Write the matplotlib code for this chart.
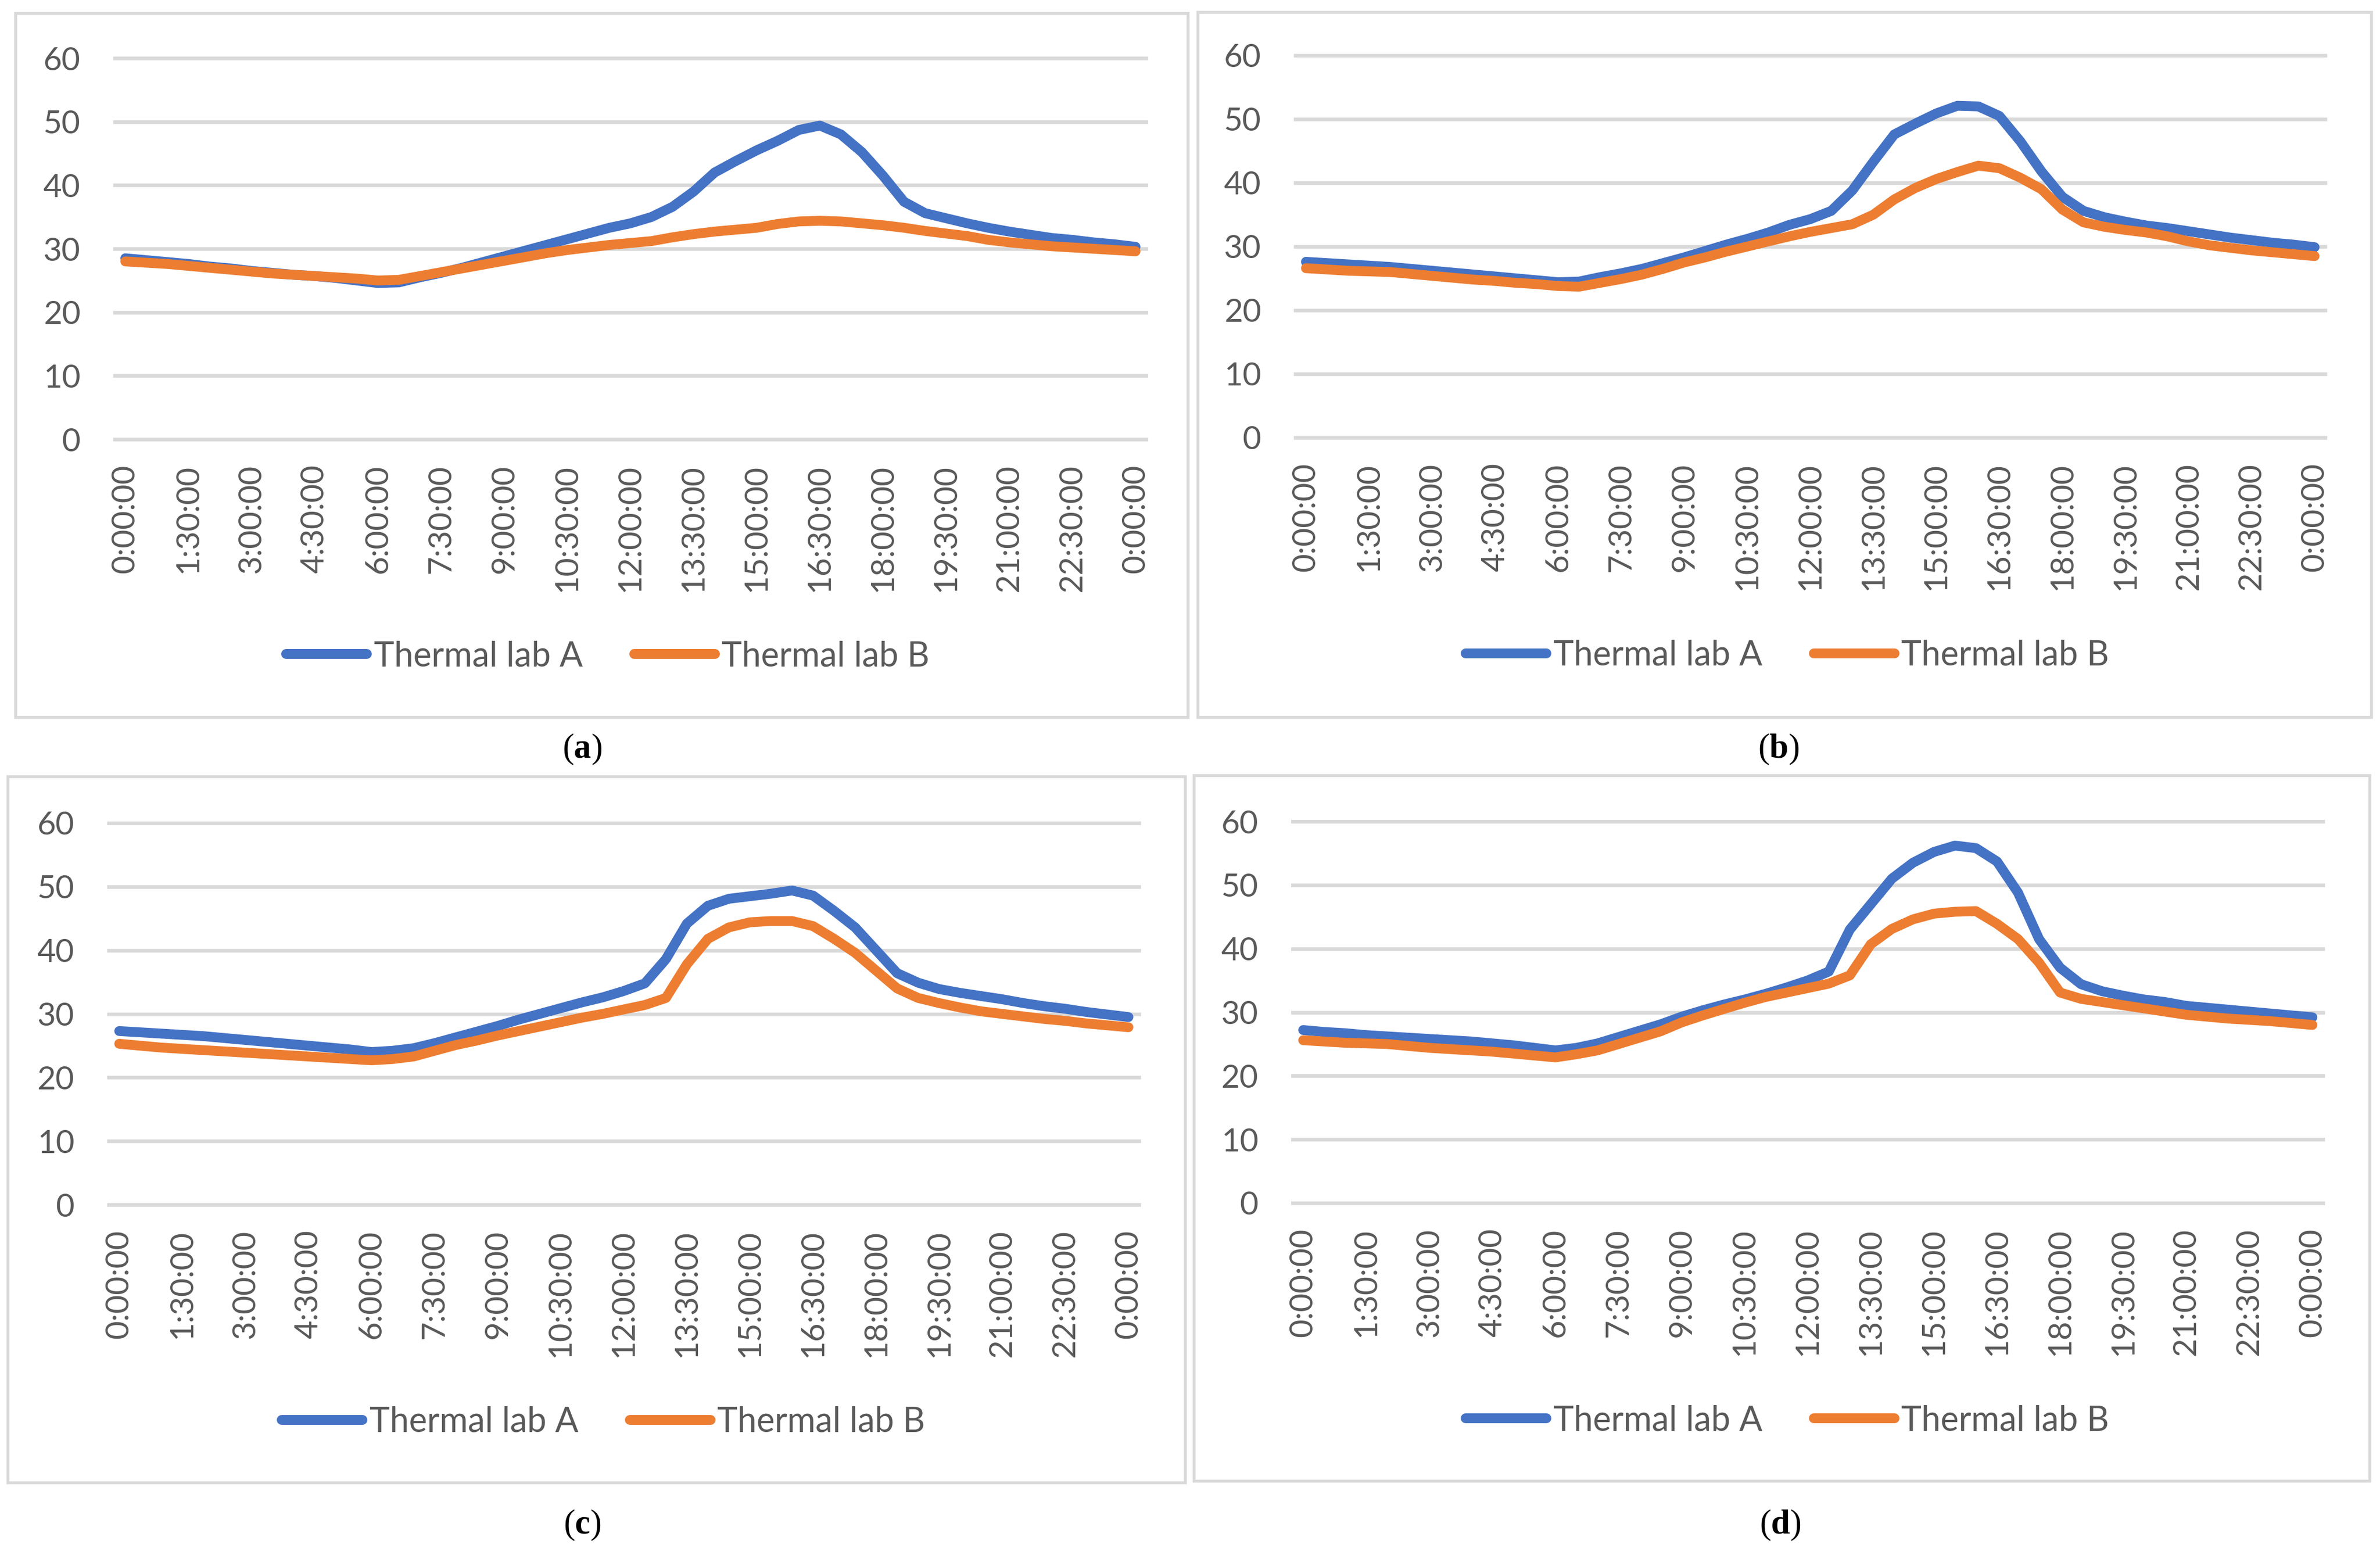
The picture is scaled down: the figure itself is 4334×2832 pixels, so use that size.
import matplotlib
matplotlib.use("Agg")
import matplotlib.pyplot as plt
from matplotlib.patches import Rectangle
import numpy as np

plt.rcParams['font.family'] = ['Lato', 'DejaVu Sans']
plt.rcParams['mathtext.fontset'] = 'custom'
plt.rcParams['mathtext.rm'] = 'Liberation Serif'
plt.rcParams['mathtext.bf'] = 'Liberation Serif:bold'

# half-hourly readings, 0:00 to 0:00 next day
times = ["%d:%02d:00" % ((i * 30 // 60) % 24, i * 30 % 60) for i in range(49)]
series_names = ["Thermal lab A", "Thermal lab B"]

# (a)
a_lab_a = [28.5, 28.2, 27.9, 27.6, 27.2, 26.9, 26.5, 26.2, 25.9, 25.7, 25.4, 25.0, 24.6,
           24.7, 25.5, 26.2, 27.0, 27.9, 28.8, 29.7, 30.6, 31.5, 32.4, 33.3, 34.0,
           35.0, 36.6, 39.0, 42.0, 43.8, 45.5, 47.0, 48.7, 49.4, 48.0, 45.2, 41.5,
           37.4, 35.6, 34.8, 34.0, 33.3, 32.7, 32.2, 31.7, 31.4, 31.0, 30.7, 30.3]
a_lab_b = [28.0, 27.8, 27.6, 27.3, 27.0, 26.7, 26.4, 26.1, 25.9, 25.7, 25.5, 25.3, 25.0,
           25.1, 25.7, 26.3, 26.9, 27.5, 28.1, 28.7, 29.3, 29.8, 30.2, 30.6, 30.9,
           31.2, 31.8, 32.3, 32.7, 33.0, 33.3, 33.9, 34.3, 34.4, 34.3, 34.0, 33.7,
           33.3, 32.8, 32.4, 32.0, 31.4, 31.0, 30.7, 30.4, 30.2, 30.0, 29.8, 29.6]

# (b)
b_lab_a = [27.6, 27.4, 27.2, 27.0, 26.8, 26.5, 26.2, 25.9, 25.6, 25.3, 25.0, 24.7, 24.4,
           24.5, 25.2, 25.8, 26.5, 27.4, 28.3, 29.3, 30.3, 31.2, 32.2, 33.4, 34.3,
           35.6, 38.8, 43.3, 47.6, 49.3, 50.9, 52.1, 52.0, 50.5, 46.5, 41.8, 37.8,
           35.6, 34.6, 33.9, 33.3, 32.9, 32.4, 31.9, 31.4, 31.0, 30.6, 30.3, 29.9]
b_lab_b = [26.6, 26.4, 26.2, 26.1, 26.0, 25.7, 25.4, 25.1, 24.8, 24.6, 24.3, 24.1, 23.8,
           23.7, 24.3, 24.9, 25.6, 26.5, 27.5, 28.3, 29.2, 30.0, 30.8, 31.6, 32.3,
           32.9, 33.5, 35.0, 37.4, 39.2, 40.6, 41.7, 42.7, 42.3, 40.8, 39.0, 35.8,
           33.8, 33.1, 32.6, 32.2, 31.6, 30.8, 30.2, 29.8, 29.4, 29.1, 28.8, 28.5]

# (c)
c_lab_a = [27.3, 27.1, 26.9, 26.7, 26.5, 26.2, 25.9, 25.6, 25.3, 25.0, 24.7, 24.4, 24.0,
           24.2, 24.6, 25.4, 26.3, 27.2, 28.1, 29.1, 30.0, 30.9, 31.8, 32.6, 33.6,
           34.8, 38.6, 44.2, 47.0, 48.1, 48.5, 48.9, 49.4, 48.6, 46.2, 43.6, 40.0,
           36.4, 34.9, 33.9, 33.3, 32.8, 32.3, 31.7, 31.2, 30.8, 30.3, 29.9, 29.5]
c_lab_b = [25.3, 25.0, 24.7, 24.5, 24.3, 24.1, 23.9, 23.7, 23.5, 23.3, 23.1, 22.9, 22.7,
           22.9, 23.3, 24.2, 25.1, 25.8, 26.6, 27.3, 28.0, 28.7, 29.4, 30.0, 30.7,
           31.4, 32.5, 37.8, 41.8, 43.6, 44.4, 44.6, 44.6, 43.8, 41.8, 39.6, 36.8,
           34.0, 32.5, 31.7, 31.0, 30.4, 30.0, 29.6, 29.2, 28.9, 28.5, 28.2, 27.9]

# (d)
d_lab_a = [27.2, 26.9, 26.7, 26.4, 26.2, 26.0, 25.8, 25.6, 25.4, 25.1, 24.8, 24.4, 24.0,
           24.4, 25.1, 26.1, 27.1, 28.1, 29.3, 30.3, 31.2, 32.0, 32.9, 33.9, 35.0,
           36.4, 43.0, 47.0, 51.0, 53.5, 55.2, 56.2, 55.8, 53.7, 48.8, 41.5, 37.0,
           34.4, 33.3, 32.6, 32.0, 31.6, 31.0, 30.7, 30.4, 30.1, 29.8, 29.5, 29.2]
d_lab_b = [25.6, 25.4, 25.2, 25.1, 25.0, 24.7, 24.4, 24.2, 24.0, 23.8, 23.5, 23.2, 22.9,
           23.4, 24.0, 25.0, 26.0, 27.0, 28.4, 29.5, 30.5, 31.5, 32.4, 33.1, 33.8,
           34.5, 35.8, 40.7, 43.1, 44.6, 45.5, 45.8, 45.9, 43.9, 41.5, 37.8, 33.1,
           32.1, 31.6, 31.1, 30.6, 30.1, 29.6, 29.3, 29.0, 28.8, 28.6, 28.3, 28.0]

captions = ["a", "b", "c", "d"]
panel_data = [(a_lab_a, a_lab_b), (b_lab_a, b_lab_b), (c_lab_a, c_lab_b), (d_lab_a, d_lab_b)]

W, H = 4334, 2832
BLUE = "#4472C4"
ORANGE = "#ED7D31"
GRID = "#D9D9D9"
TXT = "#595959"

# pixel layout: plot area (left, top, right, bottom), chart box, legend centre, caption centre
plot_px = [(209, 106, 2087, 800), (2359, 101, 4234, 797),
           (198, 1499, 2074, 2194), (2354, 1496, 4230, 2191)]
box_px = [(28, 24, 2163, 1306), (2181, 22, 4318, 1306),
          (14, 1414, 2158, 2700), (2174, 1412, 4315, 2697)]
legend_px = [(1107, 1195), (3255, 1194), (1099, 2590), (3255, 2587)]
caption_px = [(1060, 1365), (3239, 1365), (1060, 2778), (3242, 2778)]

fig = plt.figure(figsize=(W / 300, H / 300), dpi=300)
fig.patch.set_facecolor("white")

x = np.arange(len(times))

for i in range(4):
    l, t, r, b = plot_px[i]
    ax = fig.add_axes([l / W, 1 - b / H, (r - l) / W, (b - t) / H])
    lab_a, lab_b = panel_data[i]
    ax.plot(x, lab_a, color=BLUE, lw=4.3, solid_capstyle="round",
            solid_joinstyle="round", label=series_names[0], zorder=3)
    ax.plot(x, lab_b, color=ORANGE, lw=4.3, solid_capstyle="round",
            solid_joinstyle="round", label=series_names[1], zorder=4)

    ax.set_xlim(-0.5, len(times) - 0.5)
    ax.set_ylim(0, 60)
    ax.set_yticks(range(0, 61, 10))
    ax.set_xticks(x[::3])
    ax.set_xticklabels(times[::3], rotation=90)
    ax.tick_params(axis="both", length=0, labelsize=14, colors=TXT)
    ax.tick_params(axis="y", pad=15)
    ax.tick_params(axis="x", pad=11)
    for s in ax.spines.values():
        s.set_visible(False)
    ax.yaxis.grid(True, color=GRID, lw=1.6)
    ax.set_axisbelow(True)
    for gl in ax.get_ygridlines():
        gl.set_clip_on(False)

    bl, bt, br, bb = box_px[i]
    fig.add_artist(Rectangle((bl / W, 1 - bb / H), (br - bl) / W, (bb - bt) / H,
                             transform=fig.transFigure, fill=False,
                             ec=GRID, lw=1.3))

    lx, ly = legend_px[i]
    handles, labels = ax.get_legend_handles_labels()
    fig.legend(handles, labels, loc="center", bbox_to_anchor=(lx / W, 1 - ly / H),
               ncol=2, frameon=False, fontsize=15, handlelength=2.35,
               handletextpad=0.2, columnspacing=1.5, labelcolor=TXT)

    cx, cy = caption_px[i]
    fig.text(cx / W, 1 - cy / H, r"$\mathrm{(}\mathbf{%s}\mathrm{)}$" % captions[i],
             ha="center", va="center", fontsize=15, color="black")

fig.savefig("out.png", dpi=300)
